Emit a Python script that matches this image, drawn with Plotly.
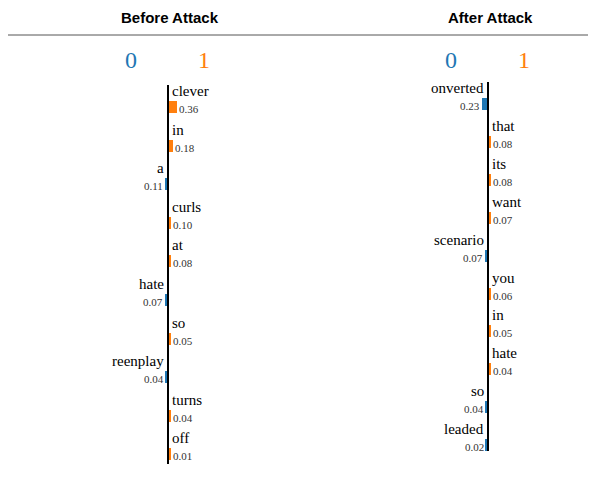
import plotly.graph_objects as go

before_words = ["clever", "in", "a", "curls", "at", "hate", "so", "reenplay", "turns", "off"]
before_vals = [0.36, 0.18, 0.11, 0.10, 0.08, 0.07, 0.05, 0.04, 0.04, 0.01]
before_cls = [1, 1, 0, 1, 1, 0, 1, 0, 1, 1]

after_words = ["onverted", "that", "its", "want", "scenario", "you", "in", "hate", "so", "leaded"]
after_vals = [0.23, 0.08, 0.08, 0.07, 0.07, 0.06, 0.05, 0.04, 0.04, 0.02]
after_cls = [0, 1, 1, 1, 0, 1, 1, 1, 0, 0]

BLUE = "#1f77b4"
ORANGE = "#ff7f0e"
SERIF = "Liberation Serif"

fig = go.Figure()
ann = []
shapes = []


def panel(words, vals, cls, ax, top, step, title, line_top, line_bot):
    ann.append(dict(x=ax + 2, y=9, text="<b>" + title + "</b>", showarrow=False,
                    font=dict(family="Liberation Sans", size=15, color="black")))
    ann.append(dict(x=ax - 37, y=52, text="0", showarrow=False,
                    font=dict(family=SERIF, size=24, color=BLUE)))
    ann.append(dict(x=ax + 36, y=52, text="1", showarrow=False,
                    font=dict(family=SERIF, size=24, color=ORANGE)))
    shapes.append(dict(type="line", x0=ax, x1=ax, y0=line_top, y1=line_bot,
                       line=dict(color="black", width=2)))
    ys, xs, cols, bases = [], [], [], []
    for i, (w, v, c) in enumerate(zip(words, vals, cls)):
        y = top + i * step
        bar_y = y + 16
        wpx = max(v * 22, 1.5)
        sign = 1 if c == 1 else -1
        ys.append(bar_y)
        xs.append(sign * wpx)
        bases.append(ax + 1 if c == 1 else ax - 1)
        cols.append(ORANGE if c == 1 else BLUE)
        if c == 1:
            ann.append(dict(x=ax + 2, y=y, text=w, showarrow=False, xanchor="left",
                            font=dict(family=SERIF, size=15, color="black")))
            ann.append(dict(x=ax + wpx + 1, y=bar_y + 2, text="%.2f" % v, showarrow=False,
                            xanchor="left", font=dict(family=SERIF, size=11, color="#333")))
        else:
            ann.append(dict(x=ax - 2, y=y, text=w, showarrow=False, xanchor="right",
                            font=dict(family=SERIF, size=15, color="black")))
            ann.append(dict(x=ax - wpx - 1, y=bar_y + 2, text="%.2f" % v, showarrow=False,
                            xanchor="right", font=dict(family=SERIF, size=11, color="#333")))
    fig.add_trace(go.Bar(y=ys, x=xs, base=bases, orientation="h", width=12,
                         marker=dict(color=cols, line=dict(width=0)), showlegend=False,
                         hoverinfo="skip"))


panel(before_words, before_vals, before_cls, 160, 83, 38.6, "Before Attack", 77, 456)
panel(after_words, after_vals, after_cls, 480, 80, 37.9, "After Attack", 74, 443)

shapes.append(dict(type="line", x0=0, x1=596, y0=27, y1=27, line=dict(color="#555", width=1)))
shapes.append(dict(type="line", x0=0, x1=596, y0=472, y1=472, line=dict(color="#555", width=1)))

fig.update_layout(
    width=596, height=478, margin=dict(l=0, r=0, t=0, b=0, pad=0, autoexpand=False),
    plot_bgcolor="white", paper_bgcolor="white",
    xaxis=dict(range=[0, 596], visible=False, fixedrange=True),
    yaxis=dict(range=[478, 0], visible=False, fixedrange=True),
    annotations=ann, shapes=shapes, bargap=0,
)
fig.write_html("out.html")
